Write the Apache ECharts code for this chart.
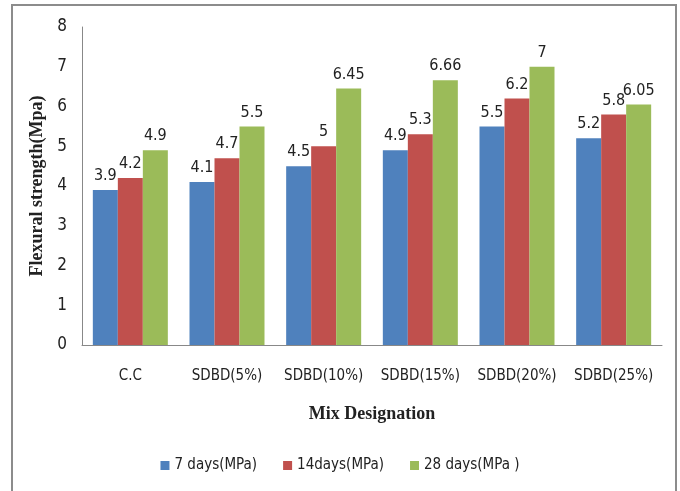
<!DOCTYPE html>
<html><head><meta charset="utf-8">
<script src="https://cdn.jsdelivr.net/npm/echarts@6/dist/echarts.min.js"></script>
<style>html,body{margin:0;padding:0;background:#fff}#c{width:680px;height:491px}
#frame{position:absolute;left:11px;top:4px;width:666px;height:495px;border:2px solid #8c8c8c;box-sizing:border-box;pointer-events:none}</style>
</head><body><div id="c"></div><div id="frame"></div>
<script>
const categories = ['C.C','SDBD(5%)','SDBD(10%)','SDBD(15%)','SDBD(20%)','SDBD(25%)'];
const days7 = [3.9,4.1,4.5,4.9,5.5,5.2];
const days14 = [4.2,4.7,5,5.3,6.2,5.8];
const days28 = [4.9,5.5,6.45,6.66,7,6.05];
const seriesNames = ['7 days(MPa)','14days(MPa)','28 days(MPa )'];
const colors = ['#4F81BD','#C0504D','#9BBB59'];
const font = '"DejaVu Sans Condensed","Liberation Sans Narrow",sans-serif';
const chart = echarts.init(document.getElementById('c'));
const mk = (name, data, i) => ({
  name, type:'bar', data, barWidth:25, barGap:'0%',
  itemStyle:{color:colors[i]},
  label:{show:true, position:'top', distance:6, color:'#222', fontFamily:font, fontSize:16}
});
chart.setOption({
  animation:false,
  grid:{left:82, top:27, right:18, bottom:146},
  legend:{bottom:13, left:'center', itemWidth:9, itemHeight:9, itemGap:26, icon:'rect',
    textStyle:{fontFamily:font, fontSize:15, color:'#222'}},
  xAxis:{type:'category', data:categories,
    axisLine:{lineStyle:{color:'#888'}}, axisTick:{show:false},
    axisLabel:{interval:0, margin:24, fontFamily:font, fontSize:15, color:'#222'},
    name:'Mix Designation', nameLocation:'middle', nameGap:60,
    nameTextStyle:{fontFamily:'"Liberation Serif",serif', fontWeight:'bold', fontSize:18, color:'#222'}},
  yAxis:{type:'value', min:0, max:8, interval:1,
    axisLine:{show:true, lineStyle:{color:'#888'}}, axisTick:{show:false}, splitLine:{show:false},
    axisLabel:{margin:15, fontFamily:font, fontSize:17, color:'#222'},
    name:'Flexural strength(Mpa)', nameLocation:'middle', nameGap:28,
    nameTextStyle:{fontFamily:'"Liberation Serif",serif', fontWeight:'bold', fontSize:18, color:'#222'}},
  series:[mk(seriesNames[0],days7,0), mk(seriesNames[1],days14,1), mk(seriesNames[2],days28,2)]
});
</script></body></html>
